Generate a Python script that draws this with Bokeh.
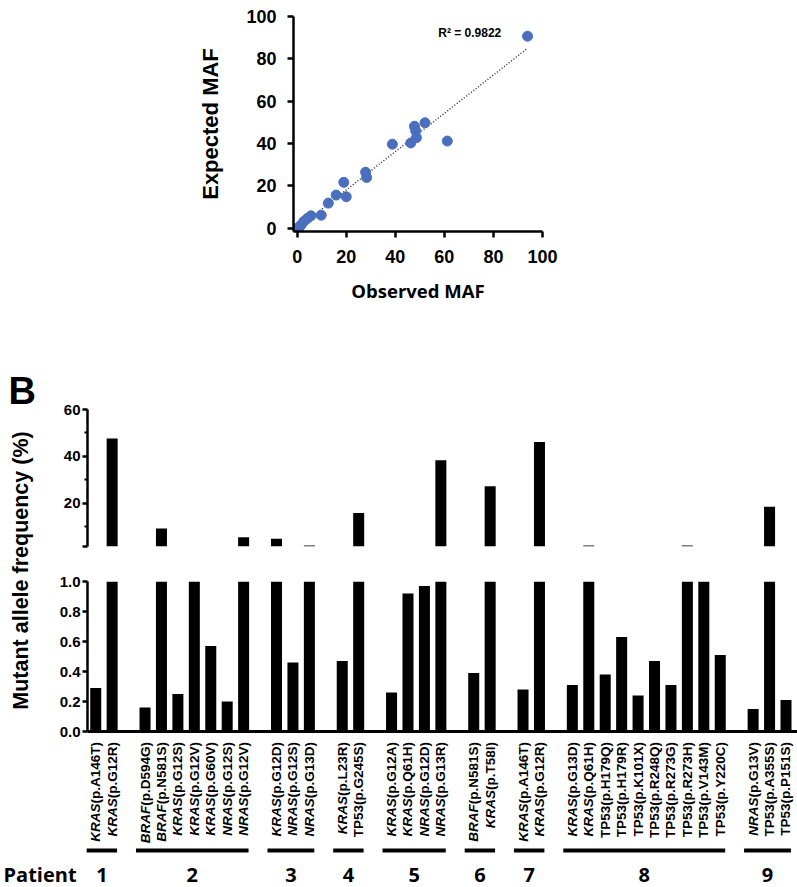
import numpy as np
from bokeh.plotting import figure
from bokeh.models import (Range1d, FixedTicker, PrintfTickFormatter, Label, ColumnDataSource,
                          CDSView, BooleanFilter)
from bokeh.layouts import column, row
from bokeh.embed import file_html
from bokeh.resources import INLINE
from bokeh.core.properties import value

# ---------------- Panel A data ----------------
observed = [0.0, 0.7, 1.6, 2.7, 4.1, 5.6, 9.8, 12.7, 15.9, 19.0, 20.0, 27.9, 28.3,
            38.8, 46.3, 47.8, 48.3, 48.6, 52.1, 61.2, 93.9]
expected = [0.0, 0.3, 1.6, 3.2, 4.6, 5.9, 6.2, 11.9, 15.7, 21.7, 14.9, 26.5, 24.0,
            39.7, 40.3, 48.2, 46.0, 42.8, 49.8, 41.2, 90.7]
trend_slope = 0.905
trend_intercept = 0.0
trend_x = [0.5, 93.5]
r2_text = "R\u00b2 = 0.9822"
a_ticks = [0, 20, 40, 60, 80, 100]

# ---------------- Panel B data ----------------
genes = ["KRAS", "KRAS",
         "BRAF", "BRAF", "KRAS", "KRAS", "KRAS", "NRAS", "NRAS",
         "KRAS", "NRAS", "NRAS",
         "KRAS", "TP53",
         "KRAS", "KRAS", "NRAS", "NRAS",
         "BRAF", "KRAS",
         "KRAS", "KRAS",
         "KRAS", "KRAS", "TP53", "TP53", "TP53", "TP53", "TP53", "TP53", "TP53", "TP53",
         "NRAS", "TP53", "TP53"]
proteins = ["(p.A146T)", "(p.G12R)",
            "(p.D594G)", "(p.N581S)", "(p.G12S)", "(p.G12V)", "(p.G60V)", "(p.G12S)", "(p.G12V)",
            "(p.G12D)", "(p.G12S)", "(p.G13D)",
            "(p.L23R)", "(p.G245S)",
            "(p.G12A)", "(p.Q61H)", "(p.G12D)", "(p.G13R)",
            "(p.N581S)", "(p.T58I)",
            "(p.A146T)", "(p.G12R)",
            "(p.G13D)", "(p.Q61H)", "(p.H179Q)", "(p.H179R)", "(p.K101X)", "(p.R248Q)",
            "(p.R273G)", "(p.R273H)", "(p.V143M)", "(p.Y220C)",
            "(p.G13V)", "(p.A355S)", "(p.P151S)"]
patient = [1, 1,
           2, 2, 2, 2, 2, 2, 2,
           3, 3, 3,
           4, 4,
           5, 5, 5, 5,
           6, 6,
           7, 7,
           8, 8, 8, 8, 8, 8, 8, 8, 8, 8,
           9, 9, 9]
maf = [0.29, 47.6,
       0.16, 9.2, 0.25, 1.2, 0.57, 0.20, 5.4,
       4.8, 0.46, 1.9,
       0.47, 15.8,
       0.26, 0.92, 0.97, 38.3,
       0.39, 27.2,
       0.28, 46.1,
       0.31, 1.9, 0.38, 0.63, 0.24, 0.47, 0.31, 1.9, 1.2, 0.51,
       0.15, 18.5, 0.21]
upper_ticks = [20, 40, 60]
upper_minor = [10, 30, 50]
lower_ticks = [0.0, 0.2, 0.4, 0.6, 0.8, 1.0]
break_low = 1.5

# ---------------- helpers ----------------
BLACK = "black"
W = {'(': 333, ')': 333, 'p': 611, '.': 278, 'A': 722, 'B': 722, 'C': 722, 'D': 722,
     'E': 667, 'F': 611, 'G': 778, 'H': 722, 'I': 278, 'K': 722, 'L': 611, 'M': 833,
     'N': 722, 'P': 667, 'Q': 778, 'R': 722, 'S': 667, 'T': 611, 'V': 667, 'X': 667,
     'Y': 667}
for d in "0123456789":
    W[d] = 556


def tw(s, fs):
    return sum(W.get(c, 556) for c in s) * fs / 1000.0


def mkfig(**kw):
    p = figure(output_backend="svg", toolbar_location=None, **kw)
    p.frame_align = False
    p.xgrid.visible = False
    p.ygrid.visible = False
    p.outline_line_color = None
    p.background_fill_color = "white"
    p.border_fill_color = "white"
    return p


def style_axis(ax, fs, width=2.5, tick_out=6, standoff=10):
    ax.axis_line_color = BLACK
    ax.axis_line_width = width
    ax.major_tick_line_color = BLACK
    ax.major_tick_line_width = width
    ax.major_tick_out = tick_out
    ax.major_tick_in = 0
    ax.minor_tick_line_color = None
    ax.major_label_text_font = "Liberation Sans"
    ax.major_label_text_font_style = "bold"
    ax.major_label_text_font_size = fs
    ax.major_label_text_color = BLACK
    ax.major_label_standoff = standoff
    ax.axis_label_text_color = BLACK


PW = 797

# ---------------- Figure A ----------------
A0 = -1.5
AH = 305
fa = mkfig(width=PW, height=AH, x_range=Range1d(A0, 100), y_range=Range1d(A0, 100),
           min_border_left=293, min_border_right=PW - 293 - 249, min_border_top=16,
           min_border_bottom=AH - 16 - 218)
for ax in (fa.xaxis[0], fa.yaxis[0]):
    style_axis(ax, "18px", width=2.5, tick_out=6, standoff=11)
    ax.ticker = FixedTicker(ticks=a_ticks)
    ax.bounds = (A0, 100)
fa.xaxis.major_label_standoff = 12
fa.yaxis.axis_label = "Expected MAF"
fa.yaxis.axis_label_text_font = "Liberation Sans"
fa.yaxis.axis_label_text_font_style = "bold"
fa.yaxis.axis_label_text_font_size = "22px"
fa.yaxis.axis_label_standoff = 20
fa.xaxis.axis_label = "Observed MAF"
fa.xaxis.axis_label_text_font = "Open Sans"
fa.xaxis.axis_label_text_font_style = "bold"
fa.xaxis.axis_label_text_font_size = "18.5px"
fa.xaxis.axis_label_standoff = 12

tx = np.array(trend_x)
fa.line(tx, trend_slope * tx + trend_intercept, line_color="#222222", line_width=1.4,
        line_dash="1 2")
fa.scatter(observed, expected, size=10, fill_color="#4a6fbe", line_color="#4a6fbe")
fa.add_layout(Label(x=57.5, y=92.0, text=r2_text, text_font="Liberation Sans",
                    text_font_style="bold", text_font_size="12px", text_baseline="middle",
                    text_color=BLACK))
ax_px = 249 / (100 - A0)
ay_px = 218 / (100 - A0)
fa.add_layout(Label(x=A0 + (7 - 293) / ax_px, y=100 - (32 - 16) / ay_px, text="A",
                    text_font="Liberation Sans", text_font_style="bold",
                    text_font_size="38px", text_baseline="alphabetic", text_color=BLACK))

# ---------------- slot positions ----------------
slots = []
s = 0
prev = None
for pt in patient:
    if prev is not None and pt != prev:
        s += 1
    slots.append(s)
    s += 1
    prev = pt
n_slots = slots[-1] + 1
XEND = n_slots - 0.3
xr = Range1d(-0.5, XEND)
bar_src = ColumnDataSource(dict(x=slots, top=maf))

# ---------------- Upper B ----------------
LW = 48
BW = PW - LW
UH = 243
fu = mkfig(width=BW, height=UH, x_range=xr, y_range=Range1d(break_low, 60),
           x_axis_location=None,
           min_border_left=39, min_border_right=0, min_border_top=104,
           min_border_bottom=UH - 104 - 137)
style_axis(fu.yaxis[0], "15px", width=2.5, tick_out=5, standoff=2)
fu.yaxis.ticker = FixedTicker(ticks=[break_low] + upper_ticks, minor_ticks=upper_minor)
fu.yaxis.major_label_overrides = {break_low: ""}
fu.yaxis.bounds = (break_low, 60)
fu.yaxis.minor_tick_line_color = BLACK
fu.yaxis.minor_tick_line_width = 2
fu.yaxis.minor_tick_out = 3
fu.yaxis.minor_tick_in = 0
upper_view = CDSView(filter=BooleanFilter([v > break_low for v in maf]))
fu.vbar(x="x", top="top", bottom=0, width=0.67, source=bar_src, view=upper_view,
        fill_color=BLACK, line_color=None)

# ---------------- Lower B ----------------
LOH = 193
fl = mkfig(width=BW, height=LOH, x_range=xr, y_range=Range1d(0, 1),
           min_border_left=39, min_border_right=0, min_border_top=33,
           min_border_bottom=LOH - 33 - 150)
style_axis(fl.yaxis[0], "15px", width=2.5, tick_out=5, standoff=2)
fl.yaxis.ticker = FixedTicker(ticks=lower_ticks)
fl.yaxis.formatter = PrintfTickFormatter(format="%.1f")
style_axis(fl.xaxis[0], "0px", width=3, tick_out=0, standoff=0)
fl.xaxis.ticker = FixedTicker(ticks=[])
fl.vbar(x="x", top="top", bottom=0, width=0.67, source=bar_src, fill_color=BLACK,
        line_color=None)

# ---------------- Left strip (B letter + y title) ----------------
LH = UH + LOH
fleft = mkfig(width=LW, height=LH, x_range=Range1d(0, LW), y_range=Range1d(LH, 0),
              x_axis_location=None, y_axis_location=None, min_border=0)
fleft.text(x=[8], y=[85], text=["B"], text_font=value("Liberation Sans"),
           text_font_style="bold", text_font_size="38px", text_baseline="alphabetic",
           text_color=BLACK)
fleft.text(x=[20], y=[265], text=["Mutant allele frequency (%)"], angle=np.pi / 2,
           text_font=value("Liberation Sans"), text_font_style="bold",
           text_font_size="21.5px", text_align="center", text_baseline="alphabetic",
           text_color=BLACK)

# ---------------- Label strip ----------------
LBH = 887 - AH - LH
pp = (BW - 39) / (XEND + 0.5)
x_start = -0.5 - 87 / pp
flab = mkfig(width=PW, height=LBH, x_range=Range1d(x_start, XEND),
             y_range=Range1d(LBH, 0),
             x_axis_location=None, y_axis_location=None, min_border=0)
LFS = 13.5
prot_y = [0.5] * len(proteins)
gene_y = [0.5 + tw(pr, LFS) for pr in proteins]
gstyle = ["bold" if g == "TP53" else "bold italic" for g in genes]
flab.text(x=slots, y=prot_y, text=proteins, angle=np.pi / 2, text_font=value("Liberation Sans"),
          text_font_style="bold", text_font_size=f"{LFS}px", text_align="right",
          text_baseline="middle", text_color=BLACK)
gsrc = ColumnDataSource(dict(x=slots, y=gene_y, t=genes, st=gstyle))
flab.text(x="x", y="y", text="t", source=gsrc, angle=np.pi / 2,
          text_font=value("Liberation Sans"), text_font_style="st",
          text_font_size=f"{LFS}px", text_align="right", text_baseline="middle",
          text_color=BLACK)

pids = sorted(set(patient))
bx0, bx1 = [], []
for pid in pids:
    ss = [sl for sl, pt in zip(slots, patient) if pt == pid]
    bx0.append(min(ss) - 0.55)
    bx1.append(max(ss) + 0.3)
flab.segment(x0=bx0, y0=[109] * len(pids), x1=bx1, y1=[109] * len(pids),
             line_color=BLACK, line_width=4)
flab.text(x=[(a + b) / 2 for a, b in zip(bx0, bx1)], y=[133] * len(pids),
          text=[str(p_) for p_ in pids], text_font=value("Open Sans"), text_font_style="bold",
          text_font_size="20px", text_align="center", text_baseline="alphabetic",
          text_color=BLACK)
flab.text(x=[x_start + 3 / pp], y=[133], text=["Patient"], text_font=value("Open Sans"),
          text_font_style="bold", text_font_size="20px", text_align="left",
          text_baseline="alphabetic", text_color=BLACK)

layout = column(fa, row(fleft, column(fu, fl)), flab)
open("out.html", "w").write(file_html(layout, INLINE))
